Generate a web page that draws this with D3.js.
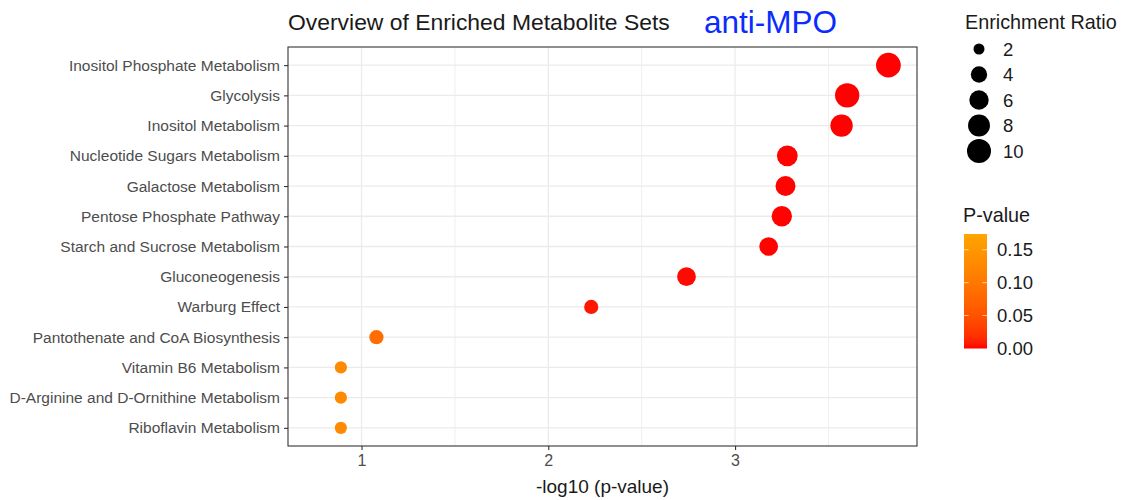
<!DOCTYPE html>
<html>
<head>
<meta charset="utf-8">
<script src="https://cdn.jsdelivr.net/npm/d3@7"></script>
<style>
  html, body { margin: 0; padding: 0; background: #fff; }
  svg { display: block; font-family: "Liberation Sans", Arial, Helvetica, sans-serif; }
</style>
</head>
<body>
<svg id="chart" width="1127" height="500"></svg>
<script>
// Metabolite sets, top to bottom
const pathways = [
  "Inositol Phosphate Metabolism",
  "Glycolysis",
  "Inositol Metabolism",
  "Nucleotide Sugars Metabolism",
  "Galactose Metabolism",
  "Pentose Phosphate Pathway",
  "Starch and Sucrose Metabolism",
  "Gluconeogenesis",
  "Warburg Effect",
  "Pantothenate and CoA Biosynthesis",
  "Vitamin B6 Metabolism",
  "D-Arginine and D-Ornithine Metabolism",
  "Riboflavin Metabolism"
];
// Raw p-values per set
const pValues = [0.000151, 0.000251, 0.000269, 0.000525, 0.000537, 0.000562,
                 0.000661, 0.00182, 0.00589, 0.0832, 0.129, 0.129, 0.129];
// Enrichment ratios per set
const enrichment = [10.7, 10.3, 8.4, 7.0, 6.4, 6.7, 5.5, 5.5, 3.0, 3.0, 2.3, 2.3, 2.3];

const xTicks = [1, 2, 3];
const sizeBreaks = [2, 4, 6, 8, 10];
const pBreaks = [0, 0.05, 0.10, 0.15];
const pLimits = [0, 0.174];
const ratioLimits = [1.6, 10.9];

const svg = d3.select("#chart");
const panel = { left: 288, right: 917, top: 47, bottom: 446 };

const data = pathways.map((name, i) => ({
  name, p: pValues[i], logp: -Math.log10(pValues[i]), ratio: enrichment[i]
}));

// x: -log10(p), padded 5% beyond the p-value limits
const xLo = -Math.log10(pLimits[1]);
const xHi = d3.max(data, d => d.logp);
const pad = (xHi - xLo) * 0.05;
const x = d3.scaleLinear().domain([xLo - pad, xHi + pad]).range([panel.left, panel.right]);
const y = d3.scalePoint().domain(pathways).range([panel.top, panel.bottom]).padding(0.6);

const color = d3.scaleLinear().domain(pLimits).range(["red", "orange"])
  .interpolate(d3.interpolateLab).clamp(true);

// area-style size scale: diameter grows with sqrt of the rescaled ratio
const ratioT = d3.scaleLinear().domain(ratioLimits).range([0, 1]).clamp(true);
const diam = d3.scaleLinear().domain([0, 1]).range([7.4, 24.9]);
const radius = v => diam(Math.sqrt(ratioT(v))) / 2;

// Panel grid
const g = svg.append("g");
const minorTicks = d3.range(1.5, xHi + pad, 1).filter(v => v > xLo - pad);
g.selectAll(".minor").data(minorTicks).join("line")
  .attr("x1", d => x(d)).attr("x2", d => x(d))
  .attr("y1", panel.top).attr("y2", panel.bottom)
  .attr("stroke", "#ebebeb").attr("stroke-width", 0.8);
g.selectAll(".vmajor").data(xTicks).join("line")
  .attr("x1", d => x(d)).attr("x2", d => x(d))
  .attr("y1", panel.top).attr("y2", panel.bottom)
  .attr("stroke", "#ebebeb").attr("stroke-width", 1.3);
g.selectAll(".hmajor").data(pathways).join("line")
  .attr("x1", panel.left).attr("x2", panel.right)
  .attr("y1", d => y(d)).attr("y2", d => y(d))
  .attr("stroke", "#ebebeb").attr("stroke-width", 1.3);

// Points
g.selectAll("circle.pt").data(data).join("circle")
  .attr("class", "pt")
  .attr("cx", d => x(d.logp)).attr("cy", d => y(d.name))
  .attr("r", d => radius(d.ratio))
  .attr("fill", d => color(d.p));

// Panel border
svg.append("rect")
  .attr("x", panel.left).attr("y", panel.top)
  .attr("width", panel.right - panel.left).attr("height", panel.bottom - panel.top)
  .attr("fill", "none").attr("stroke", "#333").attr("stroke-width", 1.1);

// Axes
const xAxis = svg.append("g").attr("transform", `translate(0,${panel.bottom})`)
  .call(d3.axisBottom(x).tickValues(xTicks).tickFormat(d3.format("d")).tickSize(4).tickPadding(5));
const yAxis = svg.append("g").attr("transform", `translate(${panel.left},0)`)
  .call(d3.axisLeft(y).tickSize(4).tickPadding(4));
[xAxis, yAxis].forEach(a => {
  a.select(".domain").remove();
  a.selectAll(".tick line").attr("stroke", "#333").attr("stroke-width", 1.1);
  a.selectAll(".tick text").attr("fill", "#4d4d4d")
    .style("font-family", "Liberation Sans, Arial, sans-serif").style("font-size", "15.5px");
});
xAxis.selectAll(".tick text").style("font-size", "16px");

svg.append("text")
  .attr("x", (panel.left + panel.right) / 2).attr("y", 493)
  .attr("text-anchor", "middle").attr("fill", "#1a1a1a")
  .style("font-size", "19px").text("-log10 (p-value)");

// Titles
svg.append("text").attr("x", 288).attr("y", 30)
  .attr("fill", "#1a1a1a").style("font-size", "22.9px")
  .text("Overview of Enriched Metabolite Sets");
svg.append("text").attr("x", 704).attr("y", 33)
  .attr("fill", "#0a2cff").style("font-size", "31.5px")
  .text("anti-MPO");

// Size legend
const sl = svg.append("g");
sl.append("text").attr("x", 965).attr("y", 29)
  .attr("fill", "#1a1a1a").style("font-size", "19.8px").text("Enrichment Ratio");
const sizeRow = d3.scaleLinear().domain([0, sizeBreaks.length - 1]).range([49, 151]);
sizeBreaks.forEach((b, i) => {
  sl.append("circle").attr("cx", 979).attr("cy", sizeRow(i)).attr("r", radius(b)).attr("fill", "#000");
  sl.append("text").attr("x", 1003).attr("y", sizeRow(i)).attr("dy", "0.36em")
    .attr("fill", "#1a1a1a").style("font-size", "18.5px").text(b);
});

// Colour bar legend
const cl = svg.append("g");
cl.append("text").attr("x", 963).attr("y", 222)
  .attr("fill", "#1a1a1a").style("font-size", "19.8px").text("P-value");
const bar = { x: 964, w: 23, top: 234, bottom: 348.5 };
const pY = d3.scaleLinear().domain(pLimits).range([bar.bottom, bar.top]);
const grad = svg.append("defs").append("linearGradient")
  .attr("id", "pgrad").attr("x1", 0).attr("x2", 0).attr("y1", 1).attr("y2", 0);
d3.range(0, 1.0001, 0.05).forEach(t => {
  grad.append("stop").attr("offset", t)
    .attr("stop-color", color(pLimits[0] + t * (pLimits[1] - pLimits[0])));
});
cl.append("rect").attr("x", bar.x).attr("y", bar.top)
  .attr("width", bar.w).attr("height", bar.bottom - bar.top).attr("fill", "url(#pgrad)");
pBreaks.forEach(b => {
  const yy = pY(b);
  if (b > pLimits[0]) {
    cl.append("line").attr("x1", bar.x).attr("x2", bar.x + 4.6).attr("y1", yy).attr("y2", yy)
      .attr("stroke", "#fff").attr("stroke-width", 0.8).attr("opacity", 0.8);
    cl.append("line").attr("x1", bar.x + bar.w - 4.6).attr("x2", bar.x + bar.w).attr("y1", yy).attr("y2", yy)
      .attr("stroke", "#fff").attr("stroke-width", 0.8).attr("opacity", 0.8);
  }
  cl.append("text").attr("x", 997).attr("y", yy).attr("dy", "0.36em")
    .attr("fill", "#1a1a1a").style("font-size", "18.5px").text(d3.format(".2f")(b));
});
</script>
</body>
</html>
